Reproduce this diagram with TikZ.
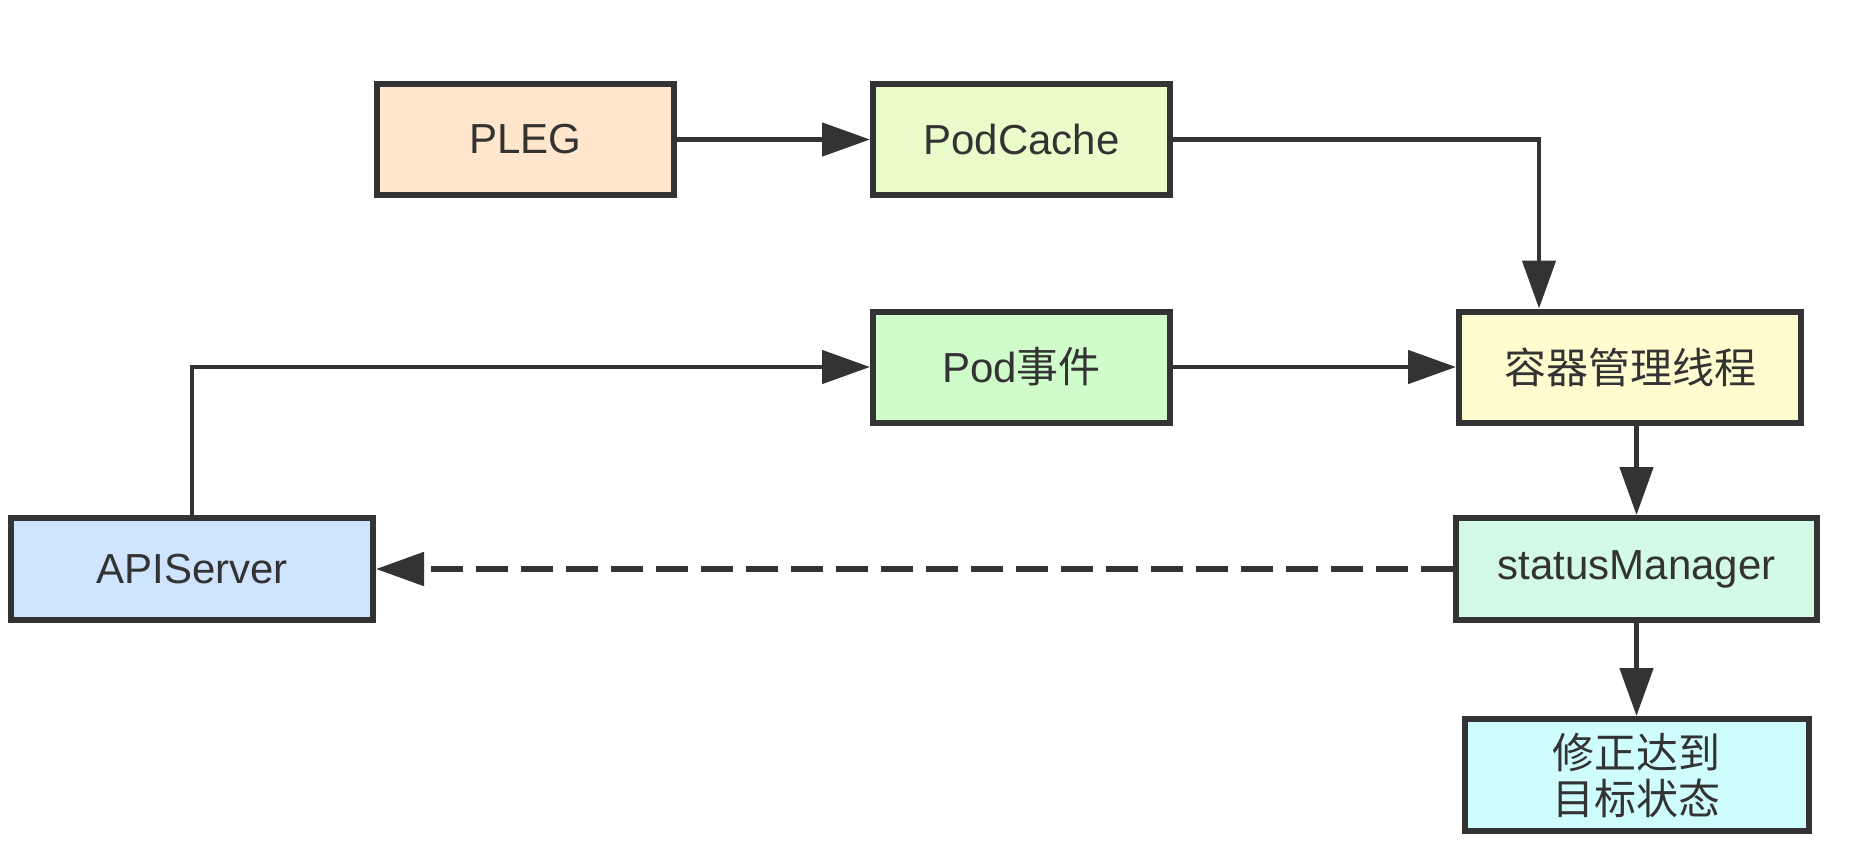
\documentclass[tikz,border=0pt]{standalone}
\usepackage{fontspec}
\setmainfont{Liberation Sans}
\newfontfamily\cjk{Noto Sans CJK SC}
\usetikzlibrary{arrows.meta}

\definecolor{linegray}{HTML}{333333}
\definecolor{plegfill}{HTML}{FFE6CC}
\definecolor{cachefill}{HTML}{EBFCCB}
\definecolor{eventfill}{HTML}{D0FCCB}
\definecolor{mgrfill}{HTML}{FFFDD0}
\definecolor{apifill}{HTML}{CFE4FF}
\definecolor{statusfill}{HTML}{D3FAE6}
\definecolor{fixfill}{HTML}{CFFCFC}

\tikzset{
    block/.style={draw=linegray, line width=3pt, text=linegray,
        minimum height=55.5pt, align=center,
        font=\fontsize{21}{25}\selectfont},
    conn/.style={draw=linegray, line width=2.4pt,
        -{Triangle[length=24pt,width=16.5pt]}},
}

\begin{document}
\begin{tikzpicture}[x=0.5pt,y=-0.5pt]
    % Page
    \useasboundingbox (0,0) rectangle (1861,852);

    % Blocks
    \node[block, fill=plegfill, minimum width=148.5pt] (pleg) at (525.5,139.5) {PLEG};
    \node[block, fill=cachefill, minimum width=148.5pt] (cache) at (1021.5,139.5) {PodCache};
    \node[block, fill=eventfill, minimum width=148.5pt] (event) at (1021.5,367) {Pod{\cjk 事件}};
    \node[block, fill=mgrfill, minimum width=171pt] (mgr) at (1630,367) {\cjk 容器管理线程};
    \node[block, fill=apifill, minimum width=181pt, minimum height=51pt] (api) at (192,569) {APIServer};
    \node[block, fill=statusfill, minimum width=180.5pt, minimum height=51pt] (status) at (1636.5,569) {statusManager};
    \node[block, fill=fixfill, minimum width=172pt, minimum height=56pt] (fix) at (1636.5,775) {\cjk 修正达到\\[-2pt]\cjk 目标状态};

    % Connectors
    \coordinate (bend) at (1539,139.5);
    \draw[conn] (pleg) -- (cache);
    \draw[conn] (cache.east) -- (bend) -- (bend |- mgr.north);
    \draw[conn] (api.north) |- (event.west);
    \draw[conn] (event) -- (mgr);
    \draw[conn] (mgr.south -| status) -- (status.north);
    \draw[conn] (status) -- (fix);
    \draw[conn, line width=2.6pt, dash pattern=on 16pt off 6.5pt] (status.west) -- (api.east);
\end{tikzpicture}
\end{document}
